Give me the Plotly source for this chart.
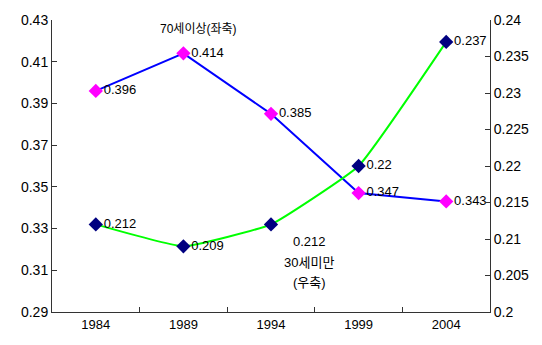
import plotly.graph_objects as go

years = ["1984", "1989", "1994", "1999", "2004"]
over70 = [0.396, 0.414, 0.385, 0.347, 0.343]      # left axis
under30 = [0.212, 0.209, 0.212, 0.220, 0.237]     # right axis

left_ticks = [0.29, 0.31, 0.33, 0.35, 0.37, 0.39, 0.41, 0.43]
right_ticks = [0.2, 0.205, 0.21, 0.215, 0.22, 0.225, 0.23, 0.235, 0.24]

FONT = "Liberation Sans, Arial, Noto Sans CJK KR, sans-serif"

fig = go.Figure()

fig.add_trace(go.Scatter(
    x=years, y=under30, yaxis="y2", mode="lines+markers+text",
    line=dict(color="#00FF00", width=2, shape="spline", smoothing=0.35),
    marker=dict(symbol="diamond", size=11, color="#000080"),
    text=[f"{v:g}" if i != 2 else "" for i, v in enumerate(under30)],
    textposition="middle right", textfont=dict(size=13, color="black"),
    cliponaxis=False, showlegend=False,
))

fig.add_trace(go.Scatter(
    x=years, y=over70, mode="lines+markers+text",
    line=dict(color="#0000FF", width=2),
    marker=dict(symbol="diamond", size=11, color="#FF00FF"),
    text=[f"{v:g}" for v in over70],
    textposition="middle right", textfont=dict(size=13, color="black"),
    cliponaxis=False, showlegend=False,
))

# series captions (category index used for x)
fig.add_annotation(x=1, y=over70[1], xref="x", yref="y", yshift=24, xshift=15,
                   text="70세이상(좌축)", showarrow=False,
                   font=dict(size=12, color="black"))
for dy, txt in [(-17, f"{under30[2]:g}"), (-38, "30세미만"), (-58, "(우축)")]:
    fig.add_annotation(x=2, y=under30[2], xref="x", yref="y2", yshift=dy, xshift=38,
                       text=txt, showarrow=False, font=dict(size=13, color="black"))

axis_common = dict(showgrid=False, zeroline=False, showline=True, linecolor="#333",
                   linewidth=1, ticks="inside", ticklen=5, tickcolor="#333",
                   tickfont=dict(size=14, color="black"))

fig.update_layout(
    width=542, height=345,
    margin=dict(l=52, r=52, t=16, b=33),
    paper_bgcolor="white", plot_bgcolor="white",
    font=dict(family=FONT, color="black"),
    xaxis=dict(type="category", range=[-0.5, 4.5], tickson="boundaries",
               showgrid=False, showline=True, linecolor="#333", ticks="inside",
               ticklen=5, tickcolor="#333", tickfont=dict(size=13, color="black")),
    yaxis=dict(range=[0.29, 0.43], tickvals=left_ticks,
               ticktext=[f"{v:g}" for v in left_ticks], **axis_common),
    yaxis2=dict(range=[0.2, 0.24], tickvals=right_ticks,
                ticktext=[f"{v:g}" for v in right_ticks],
                overlaying="y", side="right", **axis_common),
)

fig.write_html("out.html")
